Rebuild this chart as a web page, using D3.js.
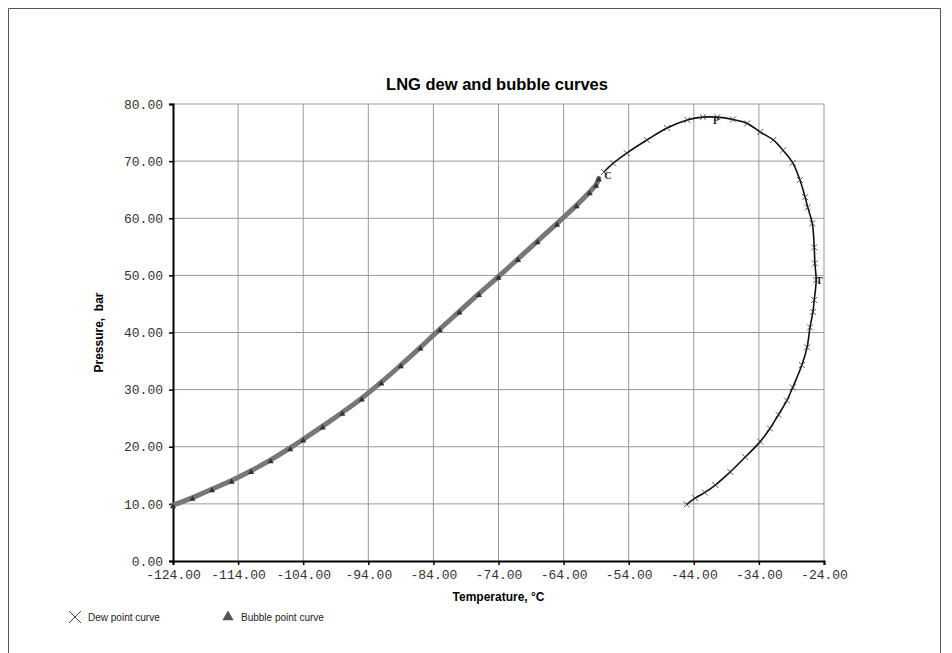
<html>
<head>
<meta charset="utf-8">
<script src="https://d3js.org/d3.v7.min.js"></script>
<style>
  body { margin: 0; background: #fff; }
  .tick text { font-family: "Liberation Mono", "DejaVu Sans Mono", monospace; font-size: 13px; fill: #333; }
  .axis-title { font-family: "Liberation Sans", Arial, sans-serif; font-weight: bold; font-size: 12px; fill: #000; }
  .legend text { font-family: "Liberation Sans", Arial, sans-serif; font-size: 10px; fill: #222; }
</style>
</head>
<body>
<svg width="952" height="653"></svg>
<script>
// dew point curve (temperature degC, pressure bar)
var dewT = [-45.1, -43.8, -42.3, -40.7, -38.4, -36.1, -33.8, -32.3, -31.0, -29.7, -28.8, -27.4,
            -26.6, -26.15, -25.7, -25.5, -25.2, -25.4, -25.5, -25.8, -26.5, -26.9, -27.7, -28.8,
            -30.3, -31.8, -33.8, -35.8, -38.0, -40.4, -42.6, -45.0, -48.1, -51.2, -54.3, -56.4, -57.8];
var dewP = [9.9, 11.0, 12.0, 13.3, 15.6, 18.2, 20.9, 23.2, 25.6, 28.1, 30.4, 34.3,
            37.4, 40.9, 43.6, 45.7, 49.2, 52.1, 54.9, 59.1, 61.9, 63.7, 66.7, 69.7,
            71.9, 73.7, 75.1, 76.6, 77.3, 77.7, 77.7, 77.2, 75.8, 73.7, 71.4, 69.6, 68.1];

// bubble point curve
var bubT = [-124, -121, -118, -115, -112, -109, -106, -104, -101, -98, -95, -92, -89, -86,
            -83, -80, -77, -74, -71, -68, -65, -62, -60, -59, -58.6];
var bubP = [9.8, 11.1, 12.6, 14.1, 15.8, 17.7, 19.8, 21.3, 23.6, 26.0, 28.5, 31.3, 34.3, 37.4,
            40.6, 43.7, 46.8, 49.8, 52.9, 56.0, 59.1, 62.3, 64.6, 65.9, 67.0];

// point labels: critical point, cricondenbar, cricondentherm
var markLabels = ["C", "P", "T"];
var markT = [-57.2, -40.6, -24.7];
var markP = [67.6, 77.2, 49.2];

var xTicks = [-124, -114, -104, -94, -84, -74, -64, -54, -44, -34, -24];
var yTicks = [0, 10, 20, 30, 40, 50, 60, 70, 80];

var svg = d3.select("svg");

// outer frame
svg.append("path").attr("d", "M8.5,660 V8.5 H940.5 V660")
  .attr("fill", "none").attr("stroke", "#555").attr("stroke-width", 1);

var pLeft = 173, pRight = 824, pTop = 104, pBottom = 561;

var x = d3.scaleLinear().domain([-124, -24]).range([pLeft, pRight]);
var y = d3.scaleLinear().domain([0, 80]).range([pBottom, pTop]);

// grid
svg.append("g").selectAll("line").data(xTicks.slice(1)).enter().append("line")
  .attr("x1", d => x(d)).attr("x2", d => x(d)).attr("y1", pTop).attr("y2", pBottom)
  .attr("stroke", "#999").attr("stroke-width", 1);
svg.append("g").selectAll("line").data(yTicks.slice(1)).enter().append("line")
  .attr("x1", pLeft).attr("x2", pRight).attr("y1", d => y(d)).attr("y2", d => y(d))
  .attr("stroke", "#999").attr("stroke-width", 1);

// axes
var fmt = d => d3.format(".2f")(d).replace("−", "-");
var yAxis = svg.append("g").attr("transform", "translate(" + pLeft + ",0)")
  .call(d3.axisLeft(y).tickValues(yTicks).tickFormat(fmt).tickSize(4).tickPadding(6));
var xAxis = svg.append("g").attr("transform", "translate(0," + pBottom + ")")
  .call(d3.axisBottom(x).tickValues(xTicks).tickFormat(fmt).tickSize(4).tickPadding(5));
[yAxis, xAxis].forEach(function(a) {
  a.select(".domain").attr("stroke", "#000").attr("stroke-width", 2);
  a.selectAll(".tick line").attr("stroke", "#000").attr("stroke-width", 1.5);
});

// titles
svg.append("text").attr("x", 497).attr("y", 90).attr("text-anchor", "middle")
  .attr("class", "axis-title").style("font-size", "16.5px").text("LNG dew and bubble curves");
svg.append("text").attr("x", (pLeft + pRight) / 2).attr("y", 601).attr("text-anchor", "middle")
  .attr("class", "axis-title").text("Temperature, °C");
svg.append("text").attr("transform", "translate(103," + ((pTop + pBottom) / 2) + ") rotate(-90)")
  .attr("text-anchor", "middle").attr("class", "axis-title").style("white-space", "pre")
  .text("Pressure,  bar");

var line = d3.line().x(d => x(d[0])).y(d => y(d[1])).curve(d3.curveCatmullRom);

// bubble curve
var bub = bubT.map((t, i) => [t, bubP[i]]);
svg.append("path").datum(bub).attr("d", line)
  .attr("fill", "none").attr("stroke", "#777").attr("stroke-width", 5).attr("stroke-linecap", "round");
svg.append("g").selectAll("path").data(bub).enter().append("path")
  .attr("transform", d => "translate(" + x(d[0]) + "," + (y(d[1]) + 1.5) + ")")
  .attr("d", d3.symbol().type(d3.symbolTriangle).size(16))
  .attr("fill", "#333");

// dew curve
var dew = dewT.map((t, i) => [t, dewP[i]]);
svg.append("path").datum(dew).attr("d", line)
  .attr("fill", "none").attr("stroke", "#111").attr("stroke-width", 1.6);
svg.append("g").selectAll("path").data(dew).enter().append("path")
  .attr("transform", d => "translate(" + x(d[0]) + "," + y(d[1]) + ")")
  .attr("d", "M-3,-3L3,3M-3,3L3,-3")
  .attr("stroke", "#333").attr("stroke-width", 0.8).attr("fill", "none");

// special point letters
svg.append("g").selectAll("text").data(markLabels).enter().append("text")
  .attr("x", (d, i) => x(markT[i])).attr("y", (d, i) => y(markP[i]) + 4)
  .attr("text-anchor", "middle")
  .style("font-family", "Liberation Serif, serif").style("font-weight", "bold").style("font-size", "10px")
  .attr("fill", "#222").text(d => d);

// legend
var lg = svg.append("g").attr("class", "legend");
lg.append("path").attr("d", "M69,611L81,623M69,623L81,611").attr("stroke", "#444").attr("stroke-width", 1).attr("fill", "none");
lg.append("text").attr("x", 88).attr("y", 620.5).text("Dew point curve");
lg.append("path").attr("transform", "translate(228,617)").attr("d", d3.symbol().type(d3.symbolTriangle).size(55)).attr("fill", "#555");
lg.append("text").attr("x", 241).attr("y", 620.5).text("Bubble point curve");
</script>
</body>
</html>
